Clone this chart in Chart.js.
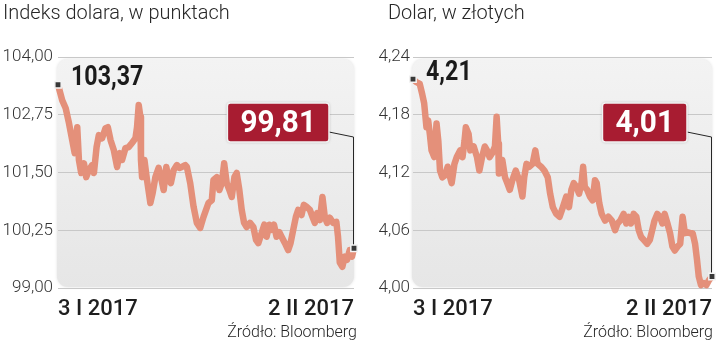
<!DOCTYPE html>
<html><head><meta charset="utf-8">
<script src="https://cdn.jsdelivr.net/npm/chart.js@4"></script>
<style>
html,body{margin:0;padding:0;background:#fff;}
#wrap{position:relative;width:720px;height:340px;overflow:hidden;background:#fff;}
canvas{position:absolute;top:0;}
.title{position:absolute;top:0px;font-family:Roboto;font-weight:300;font-size:21px;color:#262626;white-space:nowrap;transform:scaleX(0.95);transform-origin:0 0;line-height:normal;}
.src{position:absolute;top:321px;font-family:Roboto;font-weight:300;font-size:17px;color:#262626;white-space:nowrap;transform:scaleX(0.94);transform-origin:100% 0;line-height:normal;text-align:right;}
</style></head>
<body><div id="wrap">
<canvas id="cL" width="360" height="340" style="left:0"></canvas>
<canvas id="cR" width="360" height="340" style="left:360px"></canvas>
<div class="title" style="left:3px">Indeks dolara, w punktach</div>
<div class="title" style="left:388px">Dolar, w złotych</div>
<div class="src" style="right:363px">Źródło: Bloomberg</div>
<div class="src" style="right:7px">Źródło: Bloomberg</div>
</div>
<script>
// ---- data (days since 3 I 2017) ----
const xTickLabels = ['3 I 2017', '2 II 2017'];

const daysL = [0,0.43,0.78,1.11,1.44,1.69,1.95,2.12,2.35,2.63,2.86,3.13,3.46,3.64,3.91,4.14,4.47,4.82,5.05,5.33,5.66,5.99,6.26,6.49,6.84,7.17,7.5,7.85,8.01,8.18,8.35,8.41,8.52,8.76,9.02,9.36,9.6,9.87,10.2,10.43,10.71,10.98,11.21,11.44,11.72,12.05,12.32,12.56,12.9,13.06,13.4,13.74,14.07,14.41,14.75,15.25,15.59,15.76,16.09,16.36,16.6,16.84,17.1,17.37,17.61,17.88,18.11,18.38,18.62,18.86,19.12,19.46,19.8,20.07,20.3,20.64,20.91,21.14,21.41,21.65,21.89,22.15,22.42,22.66,23.0,23.33,23.57,23.84,24.11,24.34,24.68,24.92,25.18,25.53,25.79,26.03,26.26,26.54,26.8,27.04,27.27,27.55,27.88,28.21,28.38,28.56,28.82,29.06,29.29,29.57,29.8,30];
const valuesL = [103.4,103.06,102.89,102.57,102.2,101.92,102.48,101.77,101.49,101.7,101.4,101.55,101.66,101.49,102.05,102.31,102.24,102.46,102.48,102.2,101.98,101.62,101.92,101.77,102.03,102.05,102.14,102.24,102.48,102.96,102.7,101.77,101.4,101.77,101.34,100.84,101.06,101.4,101.6,101.4,101.12,101.62,101.34,101.27,101.55,101.66,101.6,101.62,101.66,101.62,101.27,100.76,100.41,100.3,100.54,100.84,100.9,101.34,101.4,101.12,101.27,101.7,101.27,101.12,100.97,101.4,101.49,101.12,100.69,100.41,100.32,100.41,100.32,100.04,99.97,100.19,100.37,100.11,100.37,100.26,100.37,100.11,100.21,100.11,99.97,99.82,99.97,100.26,100.54,100.69,100.58,100.8,100.76,100.69,100.54,100.41,100.62,100.47,100.97,100.54,100.41,100.52,100.41,100.43,100.11,99.55,99.46,99.68,99.61,99.82,99.68,99.86];
const yTicksL = [99, 100.25, 101.5, 102.75, 104];
const yTickLabelsL = ['99,00', '100,25', '101,50', '102,75', '104,00'];
const firstLabelL = '103,37';
const lastLabelL = '99,81';

const daysR = [0,0.33,0.68,0.91,1.12,1.35,1.52,1.69,1.86,2.13,2.36,2.54,2.71,2.94,3.21,3.48,3.72,3.88,4.16,4.39,4.74,4.97,5.17,5.3,5.58,5.75,6.09,6.42,6.66,6.93,7.2,7.43,7.68,7.94,8.22,8.39,8.55,8.62,8.96,9.23,9.46,9.71,9.97,10.31,10.65,10.98,11.16,11.39,11.66,12.0,12.27,12.5,12.85,13.18,13.52,13.76,14.03,14.37,14.71,15.04,15.38,15.65,15.89,16.13,16.4,16.66,16.91,17.07,17.24,17.47,17.75,18.02,18.26,18.43,18.69,18.93,19.27,19.6,19.95,20.28,20.52,20.79,21.13,21.4,21.63,21.88,22.14,22.41,22.65,22.89,23.15,23.5,23.76,24.0,24.23,24.51,24.78,25.02,25.25,25.53,25.79,26.03,26.27,26.54,26.81,27.05,27.28,27.56,27.82,28.06,28.3,28.5,28.67,28.9,29.18,29.44,29.69,30];
const valuesR = [4.217,4.214,4.212,4.202,4.192,4.167,4.174,4.16,4.143,4.136,4.171,4.153,4.122,4.115,4.117,4.126,4.115,4.109,4.129,4.136,4.143,4.136,4.153,4.167,4.16,4.143,4.147,4.136,4.122,4.136,4.147,4.143,4.136,4.14,4.147,4.178,4.15,4.119,4.133,4.115,4.109,4.102,4.112,4.122,4.112,4.095,4.115,4.129,4.126,4.129,4.143,4.129,4.126,4.122,4.115,4.098,4.084,4.077,4.074,4.084,4.095,4.084,4.102,4.109,4.105,4.098,4.109,4.126,4.105,4.102,4.095,4.091,4.112,4.109,4.088,4.077,4.07,4.074,4.07,4.06,4.067,4.07,4.077,4.067,4.074,4.067,4.077,4.074,4.06,4.053,4.05,4.046,4.05,4.06,4.07,4.077,4.074,4.067,4.077,4.067,4.057,4.043,4.039,4.043,4.046,4.074,4.057,4.058,4.057,4.057,4.046,4.029,4.012,4.003,4.005,4.003,4.008,4.012];
const yTicksR = [4.00, 4.06, 4.12, 4.18, 4.24];
const yTickLabelsR = ['4,00', '4,06', '4,12', '4,18', '4,24'];
const firstLabelR = '4,21';
const lastLabelR = '4,01';

// ---- plugins ----
const panelPlugin = {
  id: 'panel',
  beforeDraw(chart) {
    const { ctx, chartArea: a } = chart;
    const x = a.left - 1, y = a.top + 2, w = a.right - a.left + 1, h = a.bottom - a.top - 3;
    ctx.save();
    ctx.shadowColor = 'rgba(0,0,0,0.12)';
    ctx.shadowBlur = 3;
    const g = ctx.createLinearGradient(0, y, 0, y + h);
    g.addColorStop(0, '#f3f3f3');
    g.addColorStop(1, '#e6e6e6');
    ctx.fillStyle = g;
    ctx.beginPath();
    ctx.roundRect(x, y, w, h, 11);
    ctx.fill();
    ctx.restore();
  }
};

const calloutPlugin = {
  id: 'callout',
  afterDatasetsDraw(chart, args, opts) {
    const { ctx, chartArea: a, scales } = chart;
    const data = chart.data.datasets[0].data;
    const p0 = data[0], pn = data[data.length - 1];
    const x0 = scales.x.getPixelForValue(p0.x), y0 = scales.y.getPixelForValue(p0.y);
    const xn = scales.x.getPixelForValue(pn.x), yn = scales.y.getPixelForValue(pn.y);

    // first value label
    ctx.save();
    ctx.font = 'bold 28px Roboto';
    ctx.fillStyle = '#1b1b1b';
    ctx.textBaseline = 'middle';
    ctx.textAlign = 'left';
    ctx.translate(x0 + 13, y0 - 6.5);
    ctx.scale(0.83, 1);
    ctx.fillText(opts.first, 0, 0);
    ctx.restore();

    // last value box
    ctx.save();
    ctx.font = 'bold 32px Roboto';
    const sx = 0.93;
    const tw = ctx.measureText(opts.last).width * sx;
    const bw = tw + 26, bh = 39;
    const bx = a.right - 25 - bw, by = a.top + 46;
    ctx.strokeStyle = '#262626';
    ctx.lineWidth = 1;
    ctx.beginPath();
    ctx.moveTo(bx + bw, by + 29);
    ctx.lineTo(xn - 0.5, by + 34);
    ctx.lineTo(xn - 0.5, yn - 4);
    ctx.stroke();

    ctx.shadowColor = 'rgba(0,0,0,0.35)';
    ctx.shadowBlur = 3;
    ctx.fillStyle = '#a81c31';
    ctx.beginPath();
    ctx.roundRect(bx, by, bw, bh, 3);
    ctx.fill();
    ctx.shadowColor = 'transparent';
    ctx.strokeStyle = '#f2f2f2';
    ctx.lineWidth = 1.5;
    ctx.stroke();

    ctx.fillStyle = '#ffffff';
    ctx.textBaseline = 'middle';
    ctx.textAlign = 'center';
    ctx.translate(bx + bw / 2, by + bh / 2 + 1);
    ctx.scale(sx, 1);
    ctx.fillText(opts.last, 0, 0);
    ctx.restore();
  }
};

function makeChart(id, days, values, yMin, yMax, yTicks, yLabels, first, last, axisW, padRight, tickPad) {
  const n = values.length;
  return new Chart(document.getElementById(id), {
    type: 'line',
    data: {
      datasets: [{
        data: days.map((d, i) => ({ x: d, y: values[i] })),
        borderColor: '#e4907a',
        borderWidth: 6.5,
        borderJoinStyle: 'round',
        borderCapStyle: 'round',
        tension: 0,
        clip: 8,
        pointStyle: 'rect',
        pointRadius: c => (c.dataIndex === 0 || c.dataIndex === n - 1) ? 4.5 : 0,
        pointBackgroundColor: '#383838',
        pointBorderColor: '#f4f4f4',
        pointBorderWidth: 1.5,
        pointHoverRadius: 0
      }]
    },
    options: {
      responsive: false,
      animation: false,
      events: [],
      layout: { padding: { top: 57, right: padRight, bottom: 0, left: 0 } },
      plugins: {
        legend: { display: false },
        tooltip: { enabled: false },
        callout: { first: first, last: last }
      },
      scales: {
        x: {
          type: 'linear', min: 0, max: 30,
          afterBuildTicks: s => { s.ticks = [{ value: 0 }, { value: 30 }]; },
          afterFit: s => { s.height = 52; },
          ticks: {
            callback: (v, i) => xTickLabels[i],
            align: 'inner', maxRotation: 0, autoSkip: false,
            font: { family: 'Roboto', weight: '500', size: 22 },
            color: '#1e1e1e', padding: 0
          },
          grid: { display: false },
          border: { display: false }
        },
        y: {
          min: yMin, max: yMax,
          afterBuildTicks: s => { s.ticks = yTicks.map(v => ({ value: v })); },
          afterFit: s => { s.width = axisW; },
          ticks: {
            callback: (v, i) => yLabels[i],
            font: { family: 'Roboto', weight: '300', size: 17 },
            color: '#333333', padding: tickPad
          },
          grid: { color: '#c8c8c8', lineWidth: 1, drawTicks: false },
          border: { display: false }
        }
      }
    },
    plugins: [panelPlugin, calloutPlugin]
  });
}

makeChart('cL', daysL, valuesL, 99, 104, yTicksL, yTickLabelsL, firstLabelL, lastLabelL, 58, 3, 5);
makeChart('cR', daysR, valuesR, 4.00, 4.24, yTicksR, yTickLabelsR, firstLabelR, lastLabelR, 53, 8, 3);
</script>
</body></html>
